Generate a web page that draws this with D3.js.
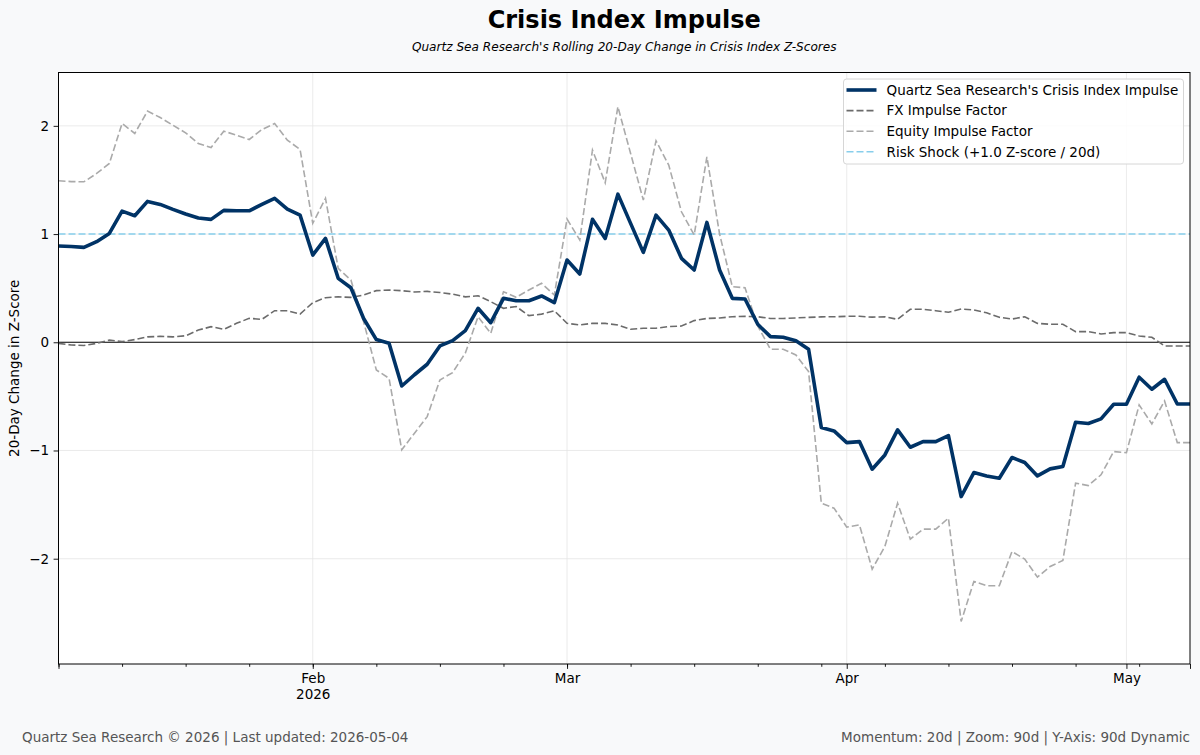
<!DOCTYPE html>
<html>
<head>
<meta charset="utf-8">
<script src="https://cdn.jsdelivr.net/npm/d3@7"></script>
<style>
  body { margin: 0; background: #f8f9fa; }
  svg { display: block; font-family: "DejaVu Sans", sans-serif; }
</style>
</head>
<body>
<div id="chart"></div>
<script>
// values, one per business day starting Mon 5 Jan 2026
var crisisImpulse = [0.89, 0.885, 0.877, 0.93, 1.006, 1.212, 1.169, 1.302, 1.274, 1.228,
  1.185, 1.148, 1.136, 1.219, 1.215, 1.215, 1.274, 1.33, 1.231, 1.175,
  0.806, 0.96, 0.591, 0.504, 0.22, 0.025, -0.008, -0.404, -0.30, -0.203,
  -0.034, 0.015, 0.107, 0.314, 0.181, 0.406, 0.384, 0.384, 0.428, 0.366,
  0.76, 0.631, 1.136, 0.96, 1.369, 1.099, 0.831, 1.175, 1.037, 0.776,
  0.668, 1.108, 0.668, 0.406, 0.40, 0.166, 0.052, 0.046, 0.015, -0.065,
  -0.788, -0.819, -0.927, -0.918, -1.173, -1.041, -0.81, -0.97, -0.918, -0.918,
  -0.862, -1.426, -1.204, -1.235, -1.256, -1.065, -1.111, -1.235, -1.17, -1.148,
  -0.739, -0.751, -0.708, -0.573, -0.573, -0.323, -0.434, -0.342, -0.57, -0.57];

var fxImpulse = [-0.01, -0.025, -0.03, -0.01, 0.02, 0.006, 0.025, 0.05, 0.055, 0.05,
  0.06, 0.113, 0.144, 0.12, 0.175, 0.221, 0.212, 0.292, 0.292, 0.261,
  0.366, 0.412, 0.42, 0.415, 0.437, 0.477, 0.483, 0.477, 0.465, 0.47,
  0.46, 0.445, 0.42, 0.43, 0.375, 0.314, 0.33, 0.246, 0.26, 0.292,
  0.175, 0.16, 0.175, 0.175, 0.16, 0.12, 0.13, 0.13, 0.145, 0.15,
  0.2, 0.22, 0.225, 0.236, 0.24, 0.236, 0.22, 0.22, 0.225, 0.23,
  0.235, 0.236, 0.24, 0.24, 0.232, 0.236, 0.212, 0.305, 0.305, 0.292,
  0.277, 0.307, 0.298, 0.273, 0.231, 0.215, 0.236, 0.175, 0.166, 0.166,
  0.098, 0.098, 0.077, 0.089, 0.089, 0.058, 0.046, -0.034, -0.034, -0.034];

var equityImpulse = [1.492, 1.485, 1.483, 1.56, 1.653, 2.022, 1.93, 2.136, 2.077, 2.006,
  1.935, 1.837, 1.80, 1.951, 1.914, 1.874, 1.966, 2.022, 1.868, 1.782,
  1.099, 1.33, 0.683, 0.575, 0.19, -0.256, -0.333, -0.994, -0.84, -0.687,
  -0.348, -0.28, -0.10, 0.236, 0.083, 0.467, 0.416, 0.483, 0.545, 0.437,
  1.139, 0.945, 1.776, 1.474, 2.176, 1.745, 1.314, 1.862, 1.637, 1.206,
  0.991, 1.714, 1.0, 0.514, 0.504, 0.15, -0.065, -0.065, -0.117, -0.271,
  -1.487, -1.533, -1.708, -1.687, -2.096, -1.887, -1.487, -1.819, -1.727, -1.727,
  -1.625, -2.58, -2.21, -2.25, -2.25, -1.933, -2.004, -2.17, -2.072, -2.016,
  -1.302, -1.324, -1.225, -1.01, -1.02, -0.579, -0.754, -0.542, -0.927, -0.927];

var riskShock = 1.0;
var yTicks = [-2, -1, 0, 1, 2];
var yearLabel = "2026";

var seriesNames = ["Quartz Sea Research's Crisis Index Impulse", "FX Impulse Factor",
  "Equity Impulse Factor", "Risk Shock (+1.0 Z-score / 20d)"];

var titleText = "Crisis Index Impulse";
var subtitleText = "Quartz Sea Research's Rolling 20-Day Change in Crisis Index Z-Scores";
var yLabelText = "20-Day Change in Z-Score";
var footerLeft = "Quartz Sea Research \u00a9 2026 | Last updated: 2026-05-04";
var footerRight = "Momentum: 20d | Zoom: 90d | Y-Axis: 90d Dynamic";

var W = 1200, H = 755;
var margin = {top: 72.5, right: 10, bottom: 91, left: 58.5};
var width = W - margin.left - margin.right;
var height = H - margin.top - margin.bottom;

// business days for the x positions
var dates = d3.timeDay.range(new Date(2026, 0, 5), new Date(2026, 5, 1))
  .filter(function(d) { return d.getDay() != 0 && d.getDay() != 6; })
  .slice(0, crisisImpulse.length);

var monthStarts = [];
var mondays = [];
dates.forEach(function(d, i) {
  if (i > 0 && d.getMonth() != dates[i - 1].getMonth()) monthStarts.push(i);
  if (d.getDay() == 1) mondays.push(i);
});
var lastIdx = dates.length - 1;

var xScale = d3.scaleLinear().domain([0, lastIdx]).range([0, width]);
var yScale = d3.scaleLinear().domain([-2.973, 2.493]).range([height, 0]);

var svg = d3.select("#chart").append("svg")
  .attr("width", W)
  .attr("height", H);

svg.append("rect").attr("width", W).attr("height", H).attr("fill", "#f8f9fa");

var g = svg.append("g")
  .attr("transform", "translate(" + margin.left + "," + margin.top + ")");

g.append("rect")
  .attr("width", width)
  .attr("height", height)
  .attr("fill", "#ffffff");

// grid
g.selectAll(".ygrid").data(yTicks.filter(function(v) { return v != 0; }))
  .enter().append("line")
  .attr("x1", 0).attr("x2", width)
  .attr("y1", function(d) { return yScale(d); })
  .attr("y2", function(d) { return yScale(d); })
  .attr("stroke", "#e6e6e6").attr("stroke-width", 0.8);

g.selectAll(".xgrid").data(monthStarts)
  .enter().append("line")
  .attr("x1", function(d) { return xScale(d); })
  .attr("x2", function(d) { return xScale(d); })
  .attr("y1", 0).attr("y2", height)
  .attr("stroke", "#e6e6e6").attr("stroke-width", 0.8);

// zero line and risk shock line
g.append("line")
  .attr("x1", 0).attr("x2", width)
  .attr("y1", yScale(0)).attr("y2", yScale(0))
  .attr("stroke", "#000").attr("stroke-width", 1.1);

g.append("line")
  .attr("x1", 0).attr("x2", width)
  .attr("y1", yScale(riskShock)).attr("y2", yScale(riskShock))
  .attr("stroke", "#87ceeb").attr("stroke-width", 1.6)
  .attr("stroke-dasharray", "7,3");

var line = d3.line()
  .x(function(d, i) { return xScale(i); })
  .y(function(d) { return yScale(d); });

var clip = svg.append("defs").append("clipPath").attr("id", "plotclip");
clip.append("rect").attr("width", width).attr("height", height);

var plot = g.append("g").attr("clip-path", "url(#plotclip)");

plot.append("path").datum(equityImpulse)
  .attr("d", line).attr("fill", "none")
  .attr("stroke", "#aaaaaa").attr("stroke-width", 1.6)
  .attr("stroke-dasharray", "7,3");

plot.append("path").datum(fxImpulse)
  .attr("d", line).attr("fill", "none")
  .attr("stroke", "#6b6b6b").attr("stroke-width", 1.6)
  .attr("stroke-dasharray", "7,3");

plot.append("path").datum(crisisImpulse)
  .attr("d", line).attr("fill", "none")
  .attr("stroke", "#003366").attr("stroke-width", 3.6)
  .attr("stroke-linejoin", "round");

// frame
g.append("rect")
  .attr("width", width).attr("height", height)
  .attr("fill", "none").attr("stroke", "#000").attr("stroke-width", 1);

// axes
var yAxis = d3.axisLeft(yScale).tickValues(yTicks).tickSize(4.9).tickPadding(4.5)
  .tickFormat(d3.format("d"));
var gy = g.append("g").call(yAxis);
gy.select(".domain").remove();

var fmtMonth = d3.timeFormat("%b");
var xAxis = d3.axisBottom(xScale)
  .tickValues([0].concat(monthStarts).concat([lastIdx]))
  .tickSize(4.9).tickPadding(4.5)
  .tickFormat(function(d) {
    if (d == 0 || d == lastIdx) return "";
    return fmtMonth(dates[d]);
  });
var gx = g.append("g").attr("transform", "translate(0," + height + ")").call(xAxis);
gx.select(".domain").remove();

var xMinor = d3.axisBottom(xScale).tickValues(mondays).tickSize(2.8).tickFormat("");
var gxm = g.append("g").attr("transform", "translate(0," + height + ")").call(xMinor);
gxm.select(".domain").remove();

[gx, gy, gxm].forEach(function(a) {
  a.selectAll("line").attr("stroke", "#000").attr("stroke-width", 0.9);
  a.selectAll("text").attr("fill", "#000").style("font-size", "13.5px")
    .style("font-family", "DejaVu Sans, sans-serif");
});

// year under first month label
gx.selectAll(".tick text").filter(function(d) { return d == monthStarts[0]; })
  .append("tspan").attr("x", 0).attr("dy", "1.15em").text(yearLabel);

// titles
svg.append("text")
  .attr("x", margin.left + width / 2).attr("y", 28)
  .attr("text-anchor", "middle")
  .style("font-size", "24px").style("font-weight", "bold")
  .text(titleText);

svg.append("text")
  .attr("x", margin.left + width / 2).attr("y", 51)
  .attr("text-anchor", "middle")
  .style("font-size", "12.1px").style("font-style", "italic")
  .text(subtitleText);

svg.append("text")
  .attr("transform", "translate(19," + (margin.top + height / 2) + ") rotate(-90)")
  .attr("text-anchor", "middle")
  .style("font-size", "13.5px")
  .text(yLabelText);

svg.append("text")
  .attr("x", 22).attr("y", 742)
  .style("font-size", "13.5px").attr("fill", "#555")
  .text(footerLeft);

svg.append("text")
  .attr("x", margin.left + width).attr("y", 742)
  .attr("text-anchor", "end")
  .style("font-size", "13.5px").attr("fill", "#555")
  .text(footerRight);

// legend
var legendStyles = [
  {color: "#003366", width: 3.6, dash: null},
  {color: "#6b6b6b", width: 1.6, dash: "7,3"},
  {color: "#aaaaaa", width: 1.6, dash: "7,3"},
  {color: "#87ceeb", width: 1.6, dash: "7,3"}
];
var legend = svg.append("g").attr("transform", "translate(843.5,79)");
legend.append("rect")
  .attr("width", 340).attr("height", 85).attr("rx", 3)
  .attr("fill", "#fff").attr("fill-opacity", 0.85)
  .attr("stroke", "#d6d6d6");

var rows = legend.selectAll(".row").data(seriesNames).enter().append("g")
  .attr("transform", function(d, i) { return "translate(0," + (11 + i * 20.6) + ")"; });

rows.append("line")
  .attr("x1", 3).attr("x2", 33)
  .attr("stroke", function(d, i) { return legendStyles[i].color; })
  .attr("stroke-width", function(d, i) { return legendStyles[i].width; })
  .attr("stroke-dasharray", function(d, i) { return legendStyles[i].dash; });

rows.append("text")
  .attr("x", 43).attr("dy", "0.35em")
  .style("font-size", "13.5px")
  .text(function(d) { return d; });
</script>
</body>
</html>
